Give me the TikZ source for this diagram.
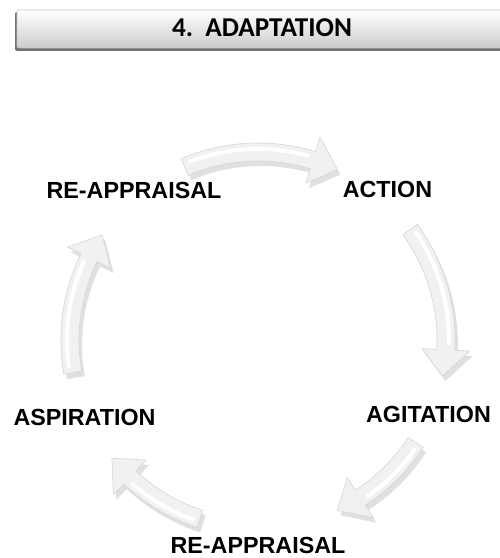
\documentclass[tikz,border=0pt]{standalone}
\usepackage{fontspec}
\setmainfont{Liberation Sans}
\newfontfamily\titlefont{Carlito}
\usetikzlibrary{calc}

\tikzset{
  stage/.style={font=\fontsize{11.65}{14}\selectfont\bfseries, anchor=base, inner sep=0pt},
  titlebar/.style={top color=white, bottom color=gray!40, draw=gray!45, line width=0.3pt, rounded corners=1pt},
  barshadow/.style={fill=black!55, rounded corners=1pt},
  arrowbody/.style={fill=gray!11, draw=gray!32, line width=0.3pt, line join=round},
  arrowshadow/.style={fill=black, opacity=0.12},
  arrowshine/.style={draw=white, line width=2pt, line cap=round}
}

% block arrow on the cycle, clockwise from #1 to #2 (degrees)
\newcommand{\cyclepath}[2]{({#1}:197) arc[start angle={#1}, end angle={#2+8}, radius=197]
  -- ({#2+8}:212) -- ({#2}:188) -- ({#2+8}:164)
  -- ({#2+8}:179) arc[start angle={#2+8}, end angle={#1}, radius=179] -- cycle}

\begin{document}
\begin{tikzpicture}[x=0.5pt, y=0.5pt]
            \useasboundingbox (0,0) rectangle (499,558);
            % title bar
            \fill[barshadow] (15,507) rectangle (510,546);
            \shade[titlebar] (17,510) rectangle (510,548);
            \node[anchor=base, inner sep=0pt] (title) at (262,521) {\titlefont\bfseries\fontsize{13.6}{16}\selectfont 4.\ \ ADAPTATION};
            % stages
            \node[stage] (reapp) at (134,359) {RE-APPRAISAL};
            \node[stage] (action) at (387.5,360) {ACTION};
            \node[stage] (agitation) at (428.5,135) {AGITATION};
            \node[stage] (reappb) at (258,4) {RE-APPRAISAL};
            \node[stage] (aspiration) at (84.5,133) {ASPIRATION};
            % arrows round the cycle
            \coordinate (hub) at (258,218);
            \begin{scope}[shift={(hub)}]
              \fill[arrowshadow, shift={(3,-5)}] \cyclepath{113}{65};
              \fill[arrowshadow, shift={(3,-5)}] \cyclepath{36}{-11};
              \fill[arrowshadow, shift={(3,-5)}] \cyclepath{-33}{-65};
              \fill[arrowshadow, shift={(3,-5)}] \cyclepath{-108}{-141};
              \fill[arrowshadow, shift={(3,-5)}] \cyclepath{190}{146};
              \filldraw[arrowbody] \cyclepath{113}{65};
              \filldraw[arrowbody] \cyclepath{36}{-11};
              \filldraw[arrowbody] \cyclepath{-33}{-65};
              \filldraw[arrowbody] \cyclepath{-108}{-141};
              \filldraw[arrowbody] \cyclepath{190}{146};
              \draw[arrowshine] (111:191) arc[start angle=111, end angle=75, radius=191];
              \draw[arrowshine] (34:191) arc[start angle=34, end angle=-1, radius=191];
              \draw[arrowshine] (-35:191) arc[start angle=-35, end angle=-55, radius=191];
              \draw[arrowshine] (-110:191) arc[start angle=-110, end angle=-131, radius=191];
              \draw[arrowshine] (188:191) arc[start angle=188, end angle=156, radius=191];
            \end{scope}
          \end{tikzpicture}
\end{document}
